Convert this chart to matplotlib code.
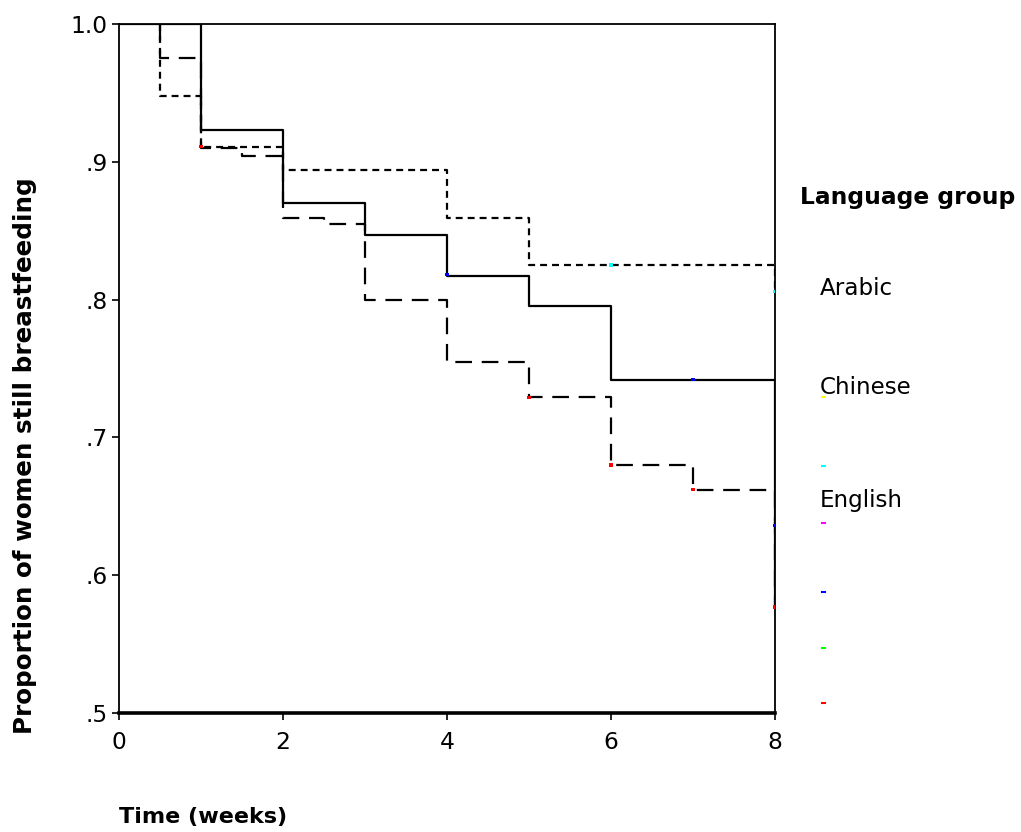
import matplotlib
matplotlib.use("Agg")
import matplotlib.pyplot as plt

plt.rcParams['font.family'] = ['DejaVu Sans']
plt.rcParams['lines.scale_dashes'] = False

# survival curves (step, post)
solid_t = [0, 1, 2, 3, 4, 5, 6, 8, 8]
solid_s = [1.0, 0.923, 0.870, 0.847, 0.817, 0.795, 0.742, 0.741, 0.58]

short_t = [0.5, 0.5, 1, 2, 4, 5, 8, 8]
short_s = [1.0, 0.948, 0.911, 0.894, 0.859, 0.825, 0.825, 0.806]

long_t = [0.5, 0.5, 1, 1.5, 2, 2.5, 3, 4, 5, 6, 7, 8, 8]
long_s = [1.0, 0.975, 0.910, 0.904, 0.859, 0.855, 0.800, 0.755, 0.729, 0.680, 0.662, 0.662, 0.577]

# censor marks
cens_t = [1, 4, 6, 8, 7, 5, 6, 7, 8, 8]
cens_s = [0.911, 0.818, 0.825, 0.806, 0.742, 0.729, 0.680, 0.662, 0.636, 0.577]
cens_c = ['red', 'blue', 'cyan', 'cyan', 'blue', 'red', 'red', 'red', 'blue', 'red']

# legend keys (stray coloured swatches)
key_y = [0.729, 0.679, 0.638, 0.588, 0.547, 0.507]
key_c = ['yellow', 'cyan', 'magenta', 'blue', 'lime', 'red']

groups = ['Arabic', 'Chinese', 'English']
group_y = [0.808, 0.736, 0.654]

yticks = [0.5, 0.6, 0.7, 0.8, 0.9, 1.0]
ylabels = ['.5', '.6', '.7', '.8', '.9', '1.0']
xticks = [0, 2, 4, 6, 8]

fig = plt.figure(figsize=(10.21, 8.32), dpi=100)
ax = fig.add_axes([0.1166, 0.1430, 0.6425, 0.8282])

ax.step(solid_t, solid_s, where='post', color='black', lw=1.6)
ax.step(short_t, short_s, where='post', color='black', lw=1.6, dashes=(5, 3.6))
ax.step(long_t, long_s, where='post', color='black', lw=1.6, dashes=(12, 7))
ax.scatter(cens_t, cens_s, c=cens_c, s=6, marker='s', zorder=3, linewidths=0)

ax.set_xlim(0, 8)
ax.set_ylim(0.5, 1.0)
ax.set_xticks(xticks)
ax.set_yticks(yticks)
ax.set_yticklabels(ylabels)
ax.tick_params(direction='out', length=5, width=1.2, labelsize=16.8)
ax.tick_params(axis='y', pad=3)
ax.tick_params(axis='x', pad=8)
for side in ['left', 'right', 'top']:
    ax.spines[side].set_linewidth(1.3)
ax.spines['bottom'].set_linewidth(2.6)

for y, c in zip(key_y, key_c):
    ax.plot([8.57, 8.61], [y, y], color=c, lw=1.5, clip_on=False)

for y, g in zip(group_y, groups):
    ax.text(8.55, y, g, fontsize=16.6, va='center', ha='left')
ax.text(8.3, 0.874, 'Language group', fontsize=16.8, fontweight='bold', va='center', ha='left')

fig.text(0.0245, 0.452, 'Proportion of women still breastfeeding', rotation=90,
         fontsize=17.7, fontweight='bold', va='center', ha='center')
fig.text(0.1166, 0.018, 'Time (weeks)', fontsize=16, fontweight='bold', va='center', ha='left')

fig.savefig('out.png', dpi=100)
